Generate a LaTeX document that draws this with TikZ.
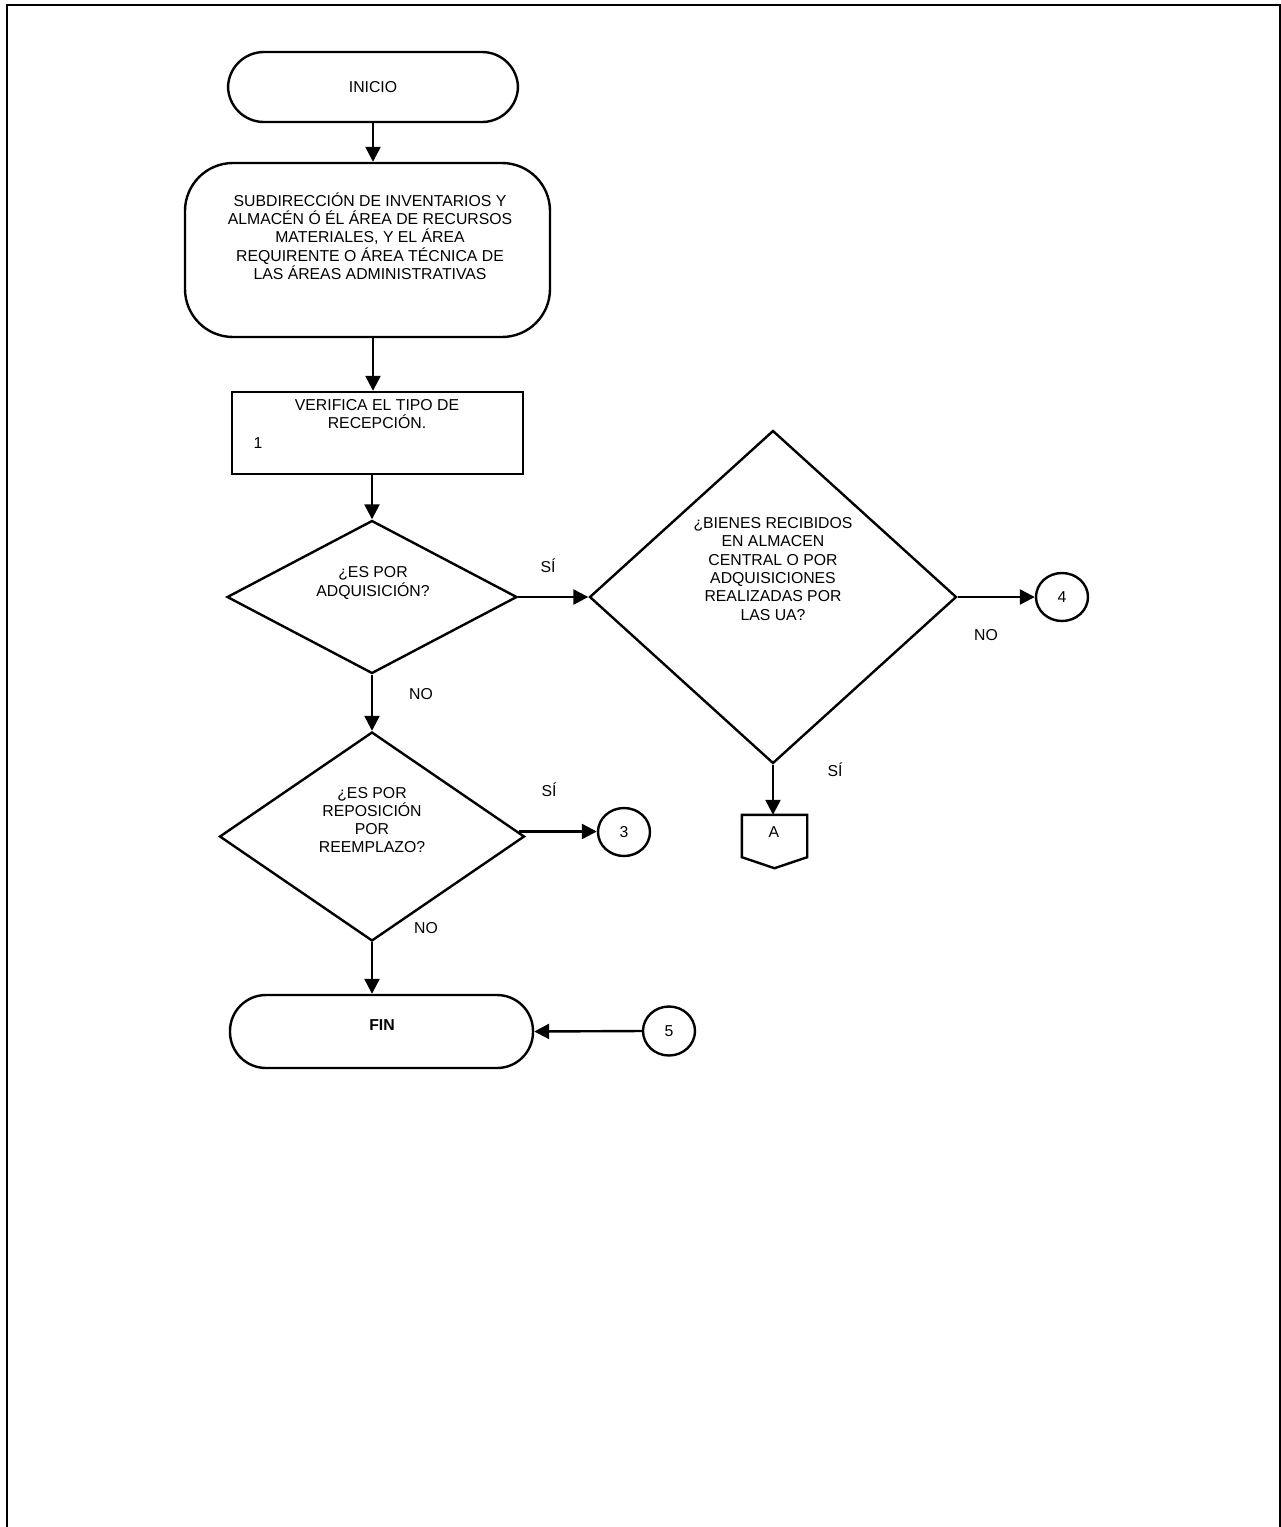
\documentclass[tikz,border=0pt]{standalone}
\usepackage{fontspec}
\setmainfont{Liberation Sans}
\usetikzlibrary{shapes.geometric,arrows.meta,calc}
\begin{document}
\begin{tikzpicture}[x=1pt,y=-1pt,
  every node/.style={font=\fontsize{15.8}{18.3}\selectfont},
  shp/.style={draw, line width=2.4pt},
  term/.style={shp, rectangle, rounded corners=36pt, inner sep=0pt},
  dec/.style={shp, diamond, inner sep=0pt},
  conn/.style={shp, ellipse, minimum width=52pt, minimum height=48pt, inner sep=0pt},
  txt/.style={align=center, inner sep=0pt},
  lbl/.style={inner sep=0pt},
  arr/.style={line width=2.4pt, -{Triangle[length=15pt,width=15pt]}},
  frame/.style={line width=2.4pt}]
\useasboundingbox (0,0) rectangle (1281,1527);
\draw[frame] (7,1527) -- (7,5) -- (1280,5) -- (1280,1527);

% nodes
\node[term, minimum width=290pt, minimum height=70pt] (inicio) at (373,87) {INICIO};
\node[shp, rectangle, rounded corners=48pt, minimum width=365pt, minimum height=174pt] (sub) at (367.5,250) {};
\node[txt] (subt) at (370,236) {SUBDIRECCIÓN DE INVENTARIOS Y\\ALMACÉN Ó ÉL ÁREA DE RECURSOS\\MATERIALES, Y EL ÁREA\\REQUIRENTE O ÁREA TÉCNICA DE\\LAS ÁREAS ADMINISTRATIVAS};
\node[shp, rectangle, minimum width=291pt, minimum height=82pt] (verif) at (377.5,433) {};
\node[txt] (verift) at (377,414) {VERIFICA EL TIPO DE\\RECEPCIÓN.};
\node[lbl] (verifn) at (258,443) {1};

\node[dec, minimum width=290pt, minimum height=153pt] (d1) at (372,597) {};
\node[txt] (d1t) at (373,583) {¿ES POR\\ADQUISICIÓN?};

\node[dec, minimum width=367pt, minimum height=333pt] (d2) at (773,597) {};
\node[txt] (d2t) at (773,569) {¿BIENES RECIBIDOS\\EN ALMACEN\\CENTRAL O POR\\ADQUISICIONES\\REALIZADAS POR\\LAS UA?};
\node[conn] (c4) at (1062,597) {4};

\node[rectangle, inner sep=0pt, minimum width=65pt, minimum height=42pt] (A) at (774.5,836) {};
\draw[shp] (A.north west) -- (A.north east) -- (A.south east) -- ($(A.south)+(0,11)$) -- (A.south west) -- cycle;
\node[lbl] (At) at (774,832) {A};

\node[dec, minimum width=305pt, minimum height=209pt] (d3) at (372,836.5) {};
\node[txt] (d3t) at (372,820) {¿ES POR\\REPOSICIÓN\\POR\\REEMPLAZO?};
\node[conn] (c3) at (624,832) {3};

\node[term, minimum width=303pt, minimum height=73pt] (fin) at (381.5,1031.5) {};
\node[lbl] (fint) at (382,1025) {\bfseries FIN};
\node[conn, minimum height=49pt] (c5) at (669,1031) {5};

% labels
\node[lbl] (l1) at (548,566) {SÍ};
\node[lbl] (l2) at (986,635) {NO};
\node[lbl] (l3) at (421,694) {NO};
\node[lbl] (l4) at (835,770) {SÍ};
\node[lbl] (l5) at (549,790) {SÍ};
\node[lbl] (l6) at (426,928) {NO};

% connectors
\draw[arr] (inicio.south) -- (inicio.south |- sub.north);
\draw[arr] (inicio.south |- sub.south) -- (inicio.south |- verif.north);
\draw[arr] (d1.north |- verif.south) -- (d1.north);
\draw[arr] (d1.east) -- (d2.west);
\draw[arr] (d2.east) -- (c4.west);
\draw[arr] (d2.south) -- (A.north -| d2.south);
\draw[arr] (d1.south) -- (d3.north);
\coordinate (d3r) at ($(d3.east)+(-7,-5)$);
\draw[arr] (d3r) -- (d3r -| c3.west);
\draw[arr] (d3.south) -- (d3.south |- fin.north);
\draw[arr] (c5.west) -- (fin.east);
\end{tikzpicture}
\end{document}
